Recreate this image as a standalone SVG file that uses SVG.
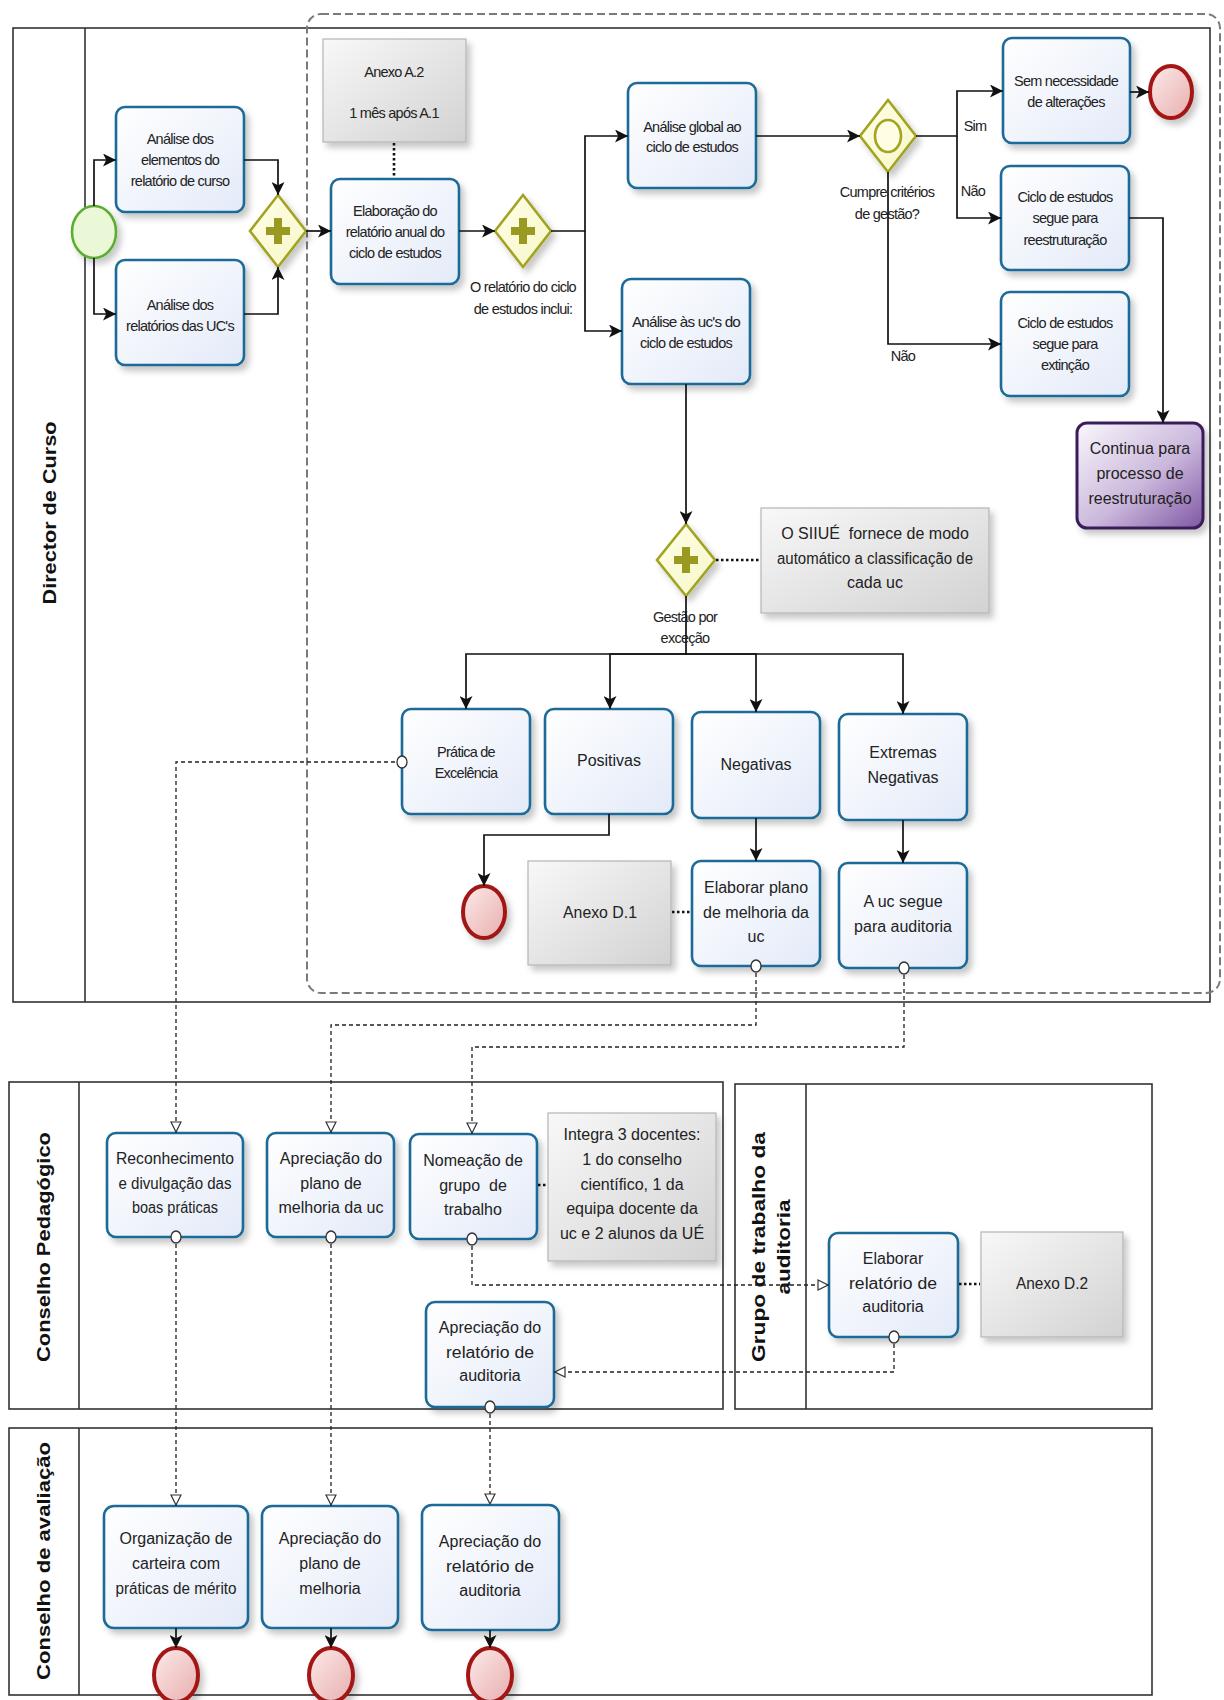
<svg xmlns="http://www.w3.org/2000/svg" width="1224" height="1700" viewBox="0 0 1224 1700">
<defs>
<style>
.lane{fill:none;stroke:#333;stroke-width:1.6}
.grp{fill:none;stroke:#7a7a7a;stroke-width:2;stroke-dasharray:8 4}
.task{fill:url(#gTask);stroke:#1d6a98;stroke-width:2.6;filter:url(#sh)}
.ptask{fill:url(#gPur);stroke:#3a1f5a;stroke-width:3;filter:url(#sh)}
.ann{fill:url(#gAnn);stroke:#b5b5b5;stroke-width:1.2;filter:url(#sh)}
.gw{fill:url(#gGw);stroke:#a3a322;stroke-width:2.6;filter:url(#sh)}
.plus{fill:#9a9a22}
.start{fill:#ebf8d8;stroke:#5cae30;stroke-width:2.6;filter:url(#sh)}
.end{fill:url(#gEnd);stroke:#a31515;stroke-width:4;filter:url(#sh)}
.flow{fill:none;stroke:#111;stroke-width:1.7;marker-end:url(#arr)}
.msg{fill:none;stroke:#222;stroke-width:1.3;stroke-dasharray:4 3;marker-start:url(#circ);marker-end:url(#oarr)}
.assoc{fill:none;stroke:#111;stroke-width:2.6;stroke-dasharray:2.5 2.5}
.n{font-family:"Liberation Sans",Arial,sans-serif;font-size:14.5px;letter-spacing:-0.75px;text-anchor:middle;fill:#222}
.w{font-family:"Liberation Sans",Arial,sans-serif;font-size:16px;text-anchor:middle;fill:#222}
.lbl{font-family:"Liberation Sans",Arial,sans-serif;font-size:18px;font-weight:bold;text-anchor:middle;fill:#111;dominant-baseline:central}
</style>
<linearGradient id="gTask" x1="0" y1="0" x2="1" y2="1"><stop offset="0" stop-color="#ffffff"/><stop offset="1" stop-color="#e3eaf8"/></linearGradient>
<linearGradient id="gPur" x1="0" y1="0" x2="1" y2="1"><stop offset="0" stop-color="#faf7fd"/><stop offset="0.55" stop-color="#cbb8dc"/><stop offset="1" stop-color="#7f56a3"/></linearGradient>
<linearGradient id="gAnn" x1="0" y1="0" x2="1" y2="1"><stop offset="0" stop-color="#f8f8f8"/><stop offset="1" stop-color="#d2d2d2"/></linearGradient>
<linearGradient id="gGw" x1="0" y1="0" x2="1" y2="1"><stop offset="0" stop-color="#ffffe8"/><stop offset="1" stop-color="#f6f6c8"/></linearGradient>
<linearGradient id="gEnd" x1="0" y1="0" x2="1" y2="1"><stop offset="0" stop-color="#fdeaea"/><stop offset="1" stop-color="#e8aeae"/></linearGradient>
<filter id="sh" x="-20%" y="-20%" width="150%" height="150%"><feDropShadow dx="4" dy="5" stdDeviation="3" flood-color="#000" flood-opacity="0.22"/></filter>
<marker id="arr" viewBox="0 0 12 12" refX="12" refY="6" markerWidth="13" markerHeight="13" markerUnits="userSpaceOnUse" orient="auto"><path d="M0,0 L12,6 L0,12 L3,6 z" fill="#111"/></marker>
<marker id="oarr" viewBox="0 0 12 12" refX="12" refY="6" markerWidth="12" markerHeight="12" markerUnits="userSpaceOnUse" orient="auto"><path d="M1,1 L11,6 L1,11 z" fill="#fff" stroke="#333" stroke-width="1.2"/></marker>
<marker id="circ" viewBox="0 0 12 14" refX="6" refY="7" markerWidth="12" markerHeight="14" markerUnits="userSpaceOnUse"><ellipse cx="6" cy="7" rx="5" ry="6" fill="#fff" stroke="#333" stroke-width="1.3"/></marker>
</defs>
<rect width="1224" height="1700" fill="#fff"/>

<g id="lanes">
<g id="lane-director"><rect class="lane" x="13" y="28" width="1197" height="974"/><line class="lane" x1="85" y1="28" x2="85" y2="1002"/>
<text class="lbl" transform="translate(50,513) rotate(-90)" textLength="183" lengthAdjust="spacingAndGlyphs">Director de Curso</text></g>
<g id="lane-cp"><rect class="lane" x="9" y="1082" width="714" height="327"/><line class="lane" x1="79" y1="1082" x2="79" y2="1409"/>
<text class="lbl" transform="translate(44,1247) rotate(-90)" textLength="230" lengthAdjust="spacingAndGlyphs">Conselho  Pedagógico</text></g>
<g id="lane-gt"><rect class="lane" x="735" y="1084" width="417" height="325"/><line class="lane" x1="806" y1="1084" x2="806" y2="1409"/>
<text class="lbl" transform="translate(759,1247) rotate(-90)" textLength="230" lengthAdjust="spacingAndGlyphs">Grupo de trabalho da</text>
<text class="lbl" transform="translate(784,1247) rotate(-90)" textLength="95" lengthAdjust="spacingAndGlyphs">auditoria</text></g>
<g id="lane-ca"><rect class="lane" x="9" y="1428" width="1143" height="267"/><line class="lane" x1="79" y1="1428" x2="79" y2="1695"/>
<text class="lbl" transform="translate(44,1561) rotate(-90)" textLength="238" lengthAdjust="spacingAndGlyphs">Conselho de avaliação</text></g>
<rect id="group" class="grp" x="307" y="14" width="913" height="979" rx="14"/>
</g>

<g id="start"><ellipse class="start" cx="94" cy="232" rx="22" ry="26"/></g>
<g id="t-analise-elementos"><rect class="task" x="116" y="107" width="128" height="105" rx="9"/>
<text class="n" x="180" y="144">Análise dos</text><text class="n" x="180" y="165">elementos do</text><text class="n" x="180" y="186">relatório de curso</text></g>
<g id="t-analise-ucs"><rect class="task" x="116" y="260" width="128" height="105" rx="9"/>
<text class="n" x="180" y="310">Análise dos</text><text class="n" x="180" y="331">relatórios das UC's</text></g>
<g id="gw1"><path class="gw" d="M278,195 L306,231 L278,267 L250,231 Z"/><rect class="plus" x="266" y="227" width="24" height="8"/><rect class="plus" x="274" y="218" width="8" height="26"/></g>
<g id="ann-a2"><rect class="ann" x="323" y="39" width="143" height="103"/>
<text class="n" x="394" y="77">Anexo A.2</text><text class="n" x="394" y="118">1 mês após A.1</text></g>
<g id="t-elaboracao"><rect class="task" x="331" y="179" width="128" height="105" rx="9"/>
<text class="n" x="395" y="216">Elaboração do</text><text class="n" x="395" y="237">relatório anual do</text><text class="n" x="395" y="258">ciclo de estudos</text></g>
<g id="gw2"><path class="gw" d="M523,195 L551,231 L523,267 L495,231 Z"/><rect class="plus" x="511" y="227" width="24" height="8"/><rect class="plus" x="519" y="218" width="8" height="26"/>
<text class="n" x="523" y="292">O relatório do ciclo</text><text class="n" x="523" y="314">de estudos inclui:</text></g>
<g id="t-analise-global"><rect class="task" x="628" y="83" width="128" height="105" rx="9"/>
<text class="n" x="692" y="132">Análise global ao</text><text class="n" x="692" y="152">ciclo de estudos</text></g>
<g id="t-analise-as-ucs"><rect class="task" x="622" y="279" width="128" height="105" rx="9"/>
<text class="n" x="686" y="327" textLength="108" lengthAdjust="spacingAndGlyphs">Análise às uc's do</text><text class="n" x="686" y="348">ciclo de estudos</text></g>
<g id="gw3"><path class="gw" d="M888,100 L916,136 L888,172 L860,136 Z"/><ellipse cx="888" cy="136" rx="13" ry="16" fill="#fffee2" stroke="#a3a322" stroke-width="2.6"/>
<text class="n" x="887" y="197">Cumpre critérios</text><text class="n" x="887" y="219">de gestão?</text>
<text class="n" x="975" y="131">Sim</text><text class="n" x="973" y="196">Não</text><text class="n" x="903" y="361">Não</text></g>
<g id="t-sem-necessidade"><rect class="task" x="1003" y="38" width="127" height="105" rx="9"/>
<text class="n" x="1066" y="86">Sem necessidade</text><text class="n" x="1066" y="107">de alterações</text></g>
<g id="end1"><ellipse class="end" cx="1171" cy="92" rx="21" ry="26"/></g>
<g id="t-reestruturacao"><rect class="task" x="1001" y="166" width="128" height="104" rx="9"/>
<text class="n" x="1065" y="202">Ciclo de estudos</text><text class="n" x="1065" y="223">segue para</text><text class="n" x="1065" y="245">reestruturação</text></g>
<g id="t-extincao"><rect class="task" x="1001" y="292" width="128" height="104" rx="9"/>
<text class="n" x="1065" y="328">Ciclo de estudos</text><text class="n" x="1065" y="349">segue para</text><text class="n" x="1065" y="370">extinção</text></g>
<g id="t-continua"><rect class="ptask" x="1077" y="423" width="126" height="105" rx="10"/>
<text class="w" x="1140" y="454">Continua para</text><text class="w" x="1140" y="479">processo de</text><text class="w" x="1140" y="504">reestruturação</text></g>
<g id="gw4"><path class="gw" d="M686,524 L715,560 L686,596 L657,560 Z"/><rect class="plus" x="674" y="556" width="24" height="8"/><rect class="plus" x="682" y="547" width="8" height="26"/>
<text class="n" x="685" y="622">Gestão por</text><text class="n" x="685" y="643">exceção</text></g>
<g id="ann-siiue"><rect class="ann" x="761" y="508" width="228" height="105"/>
<text class="w" x="875" y="539" xml:space="preserve">O SIIUÉ  fornece de modo</text><text class="w" x="875" y="564" textLength="196" lengthAdjust="spacingAndGlyphs">automático a classificação de</text><text class="w" x="875" y="588">cada uc</text></g>
<g id="t-pratica"><rect class="task" x="402" y="709" width="128" height="105" rx="9"/>
<text class="n" x="466" y="757">Prática de</text><text class="n" x="466" y="778">Excelência</text></g>
<g id="t-positivas"><rect class="task" x="545" y="709" width="128" height="105" rx="9"/>
<text class="w" x="609" y="766">Positivas</text></g>
<g id="t-negativas"><rect class="task" x="692" y="712" width="128" height="106" rx="9"/>
<text class="w" x="756" y="770">Negativas</text></g>
<g id="t-extremas"><rect class="task" x="839" y="714" width="128" height="106" rx="9"/>
<text class="w" x="903" y="758">Extremas</text><text class="w" x="903" y="783">Negativas</text></g>
<g id="end2"><ellipse class="end" cx="484" cy="912" rx="21" ry="26"/></g>
<g id="ann-d1"><rect class="ann" x="528" y="861" width="143" height="104"/>
<text class="w" x="600" y="918" textLength="74" lengthAdjust="spacingAndGlyphs">Anexo D.1</text></g>
<g id="t-elaborar-plano"><rect class="task" x="692" y="861" width="128" height="105" rx="9"/>
<text class="w" x="756" y="893">Elaborar plano</text><text class="w" x="756" y="918">de melhoria da</text><text class="w" x="756" y="942">uc</text></g>
<g id="t-uc-auditoria"><rect class="task" x="839" y="863" width="128" height="105" rx="9"/>
<text class="w" x="903" y="907">A uc segue</text><text class="w" x="903" y="932">para auditoria</text></g>

<g id="t-reconhecimento"><rect class="task" x="107" y="1133" width="136" height="104" rx="9"/>
<text class="w" x="175" y="1164" textLength="118" lengthAdjust="spacingAndGlyphs">Reconhecimento</text><text class="w" x="175" y="1189" textLength="113" lengthAdjust="spacingAndGlyphs">e divulgação das</text><text class="w" x="175" y="1213" textLength="86" lengthAdjust="spacingAndGlyphs">boas práticas</text></g>
<g id="t-apreciacao-plano-uc"><rect class="task" x="267" y="1133" width="127" height="104" rx="9"/>
<text class="w" x="331" y="1164">Apreciação do</text><text class="w" x="331" y="1189">plano de</text><text class="w" x="331" y="1213">melhoria da uc</text></g>
<g id="t-nomeacao"><rect class="task" x="410" y="1134" width="127" height="105" rx="9"/>
<text class="w" x="473" y="1166">Nomeação de</text><text class="w" x="473" y="1191" xml:space="preserve">grupo  de</text><text class="w" x="473" y="1215">trabalho</text></g>
<g id="ann-integra"><rect class="ann" x="548" y="1113" width="168" height="148"/>
<text class="w" x="632" y="1140">Integra 3 docentes:</text><text class="w" x="632" y="1165">1 do conselho</text><text class="w" x="632" y="1190">científico, 1 da</text><text class="w" x="632" y="1214">equipa docente da</text><text class="w" x="632" y="1239">uc e 2 alunos da UÉ</text></g>
<g id="t-apreciacao-relatorio-cp"><rect class="task" x="426" y="1302" width="128" height="105" rx="9"/>
<text class="w" x="490" y="1333">Apreciação do</text><text class="w" x="490" y="1358" textLength="88" lengthAdjust="spacingAndGlyphs">relatório de</text><text class="w" x="490" y="1381">auditoria</text></g>
<g id="t-elaborar-relatorio"><rect class="task" x="829" y="1233" width="129" height="104" rx="9"/>
<text class="w" x="893" y="1264">Elaborar</text><text class="w" x="893" y="1289" textLength="88" lengthAdjust="spacingAndGlyphs">relatório de</text><text class="w" x="893" y="1312">auditoria</text></g>
<g id="ann-d2"><rect class="ann" x="981" y="1232" width="142" height="105"/>
<text class="w" x="1052" y="1289" textLength="72" lengthAdjust="spacingAndGlyphs">Anexo D.2</text></g>

<g id="t-organizacao"><rect class="task" x="104" y="1506" width="144" height="122" rx="10"/>
<text class="w" x="176" y="1544">Organização de</text><text class="w" x="176" y="1569">carteira com</text><text class="w" x="176" y="1594" textLength="121" lengthAdjust="spacingAndGlyphs">práticas de mérito</text></g>
<g id="t-apreciacao-plano-ca"><rect class="task" x="262" y="1506" width="136" height="122" rx="10"/>
<text class="w" x="330" y="1544">Apreciação do</text><text class="w" x="330" y="1569">plano de</text><text class="w" x="330" y="1594">melhoria</text></g>
<g id="t-apreciacao-relatorio-ca"><rect class="task" x="422" y="1505" width="137" height="125" rx="10"/>
<text class="w" x="490" y="1547">Apreciação do</text><text class="w" x="490" y="1572" textLength="88" lengthAdjust="spacingAndGlyphs">relatório de</text><text class="w" x="490" y="1596">auditoria</text></g>
<g id="end3"><ellipse class="end" cx="176" cy="1675" rx="22" ry="27"/></g>
<g id="end4"><ellipse class="end" cx="331" cy="1675" rx="22" ry="27"/></g>
<g id="end5"><ellipse class="end" cx="490" cy="1675" rx="22" ry="27"/></g>

<g id="connectors">
<path class="flow" d="M94,206 V160 H116"/>
<path class="flow" d="M94,258 V314 H116"/>
<path class="flow" d="M244,160 H278 V195"/>
<path class="flow" d="M244,314 H278 V267"/>
<path class="flow" d="M306,231 H331"/>
<path class="flow" d="M459,231 H495"/>
<path class="flow" d="M551,231 H585 V136 H628"/>
<path class="flow" d="M585,231 V331 H622"/>
<path class="flow" d="M756,136 H860"/>
<path class="flow" d="M916,136 H957 V91 H1003"/>
<path class="flow" d="M957,136 V218 H1001"/>
<path class="flow" d="M888,172 V344 H1001"/>
<path class="flow" d="M1130,92 H1149"/>
<path class="flow" d="M1129,218 H1163 V423"/>
<path class="flow" d="M686,384 V524"/>
<path class="flow" d="M686,596 V654 H466 V709"/>
<path class="flow" d="M686,654 H610 V709"/>
<path class="flow" d="M686,654 H756 V712"/>
<path class="flow" d="M686,654 H903 V714"/>
<path class="flow" d="M609,814 V835 H484 V886"/>
<path class="flow" d="M756,818 V861"/>
<path class="flow" d="M903,820 V863"/>
<path class="flow" d="M176,1628 V1648"/>
<path class="flow" d="M331,1628 V1648"/>
<path class="flow" d="M490,1630 V1648"/>
<path class="assoc" d="M394,143 V178"/>
<path class="assoc" d="M716,560 H760"/>
<path class="assoc" d="M672,912 H691"/>
<path class="assoc" d="M538,1185 H547"/>
<path class="assoc" d="M959,1284 H980"/>
<path class="msg" d="M402,762 H176 V1133"/>
<path class="msg" d="M756,966 V1025 H331 V1133"/>
<path class="msg" d="M904,968 V1047 H472 V1134"/>
<path class="msg" d="M472,1239 V1285 H829"/>
<path class="msg" d="M894,1337 V1372 H554"/>
<path class="msg" d="M176,1237 V1506"/>
<path class="msg" d="M331,1237 V1506"/>
<path class="msg" d="M490,1407 V1505"/>
</g>
</svg>
